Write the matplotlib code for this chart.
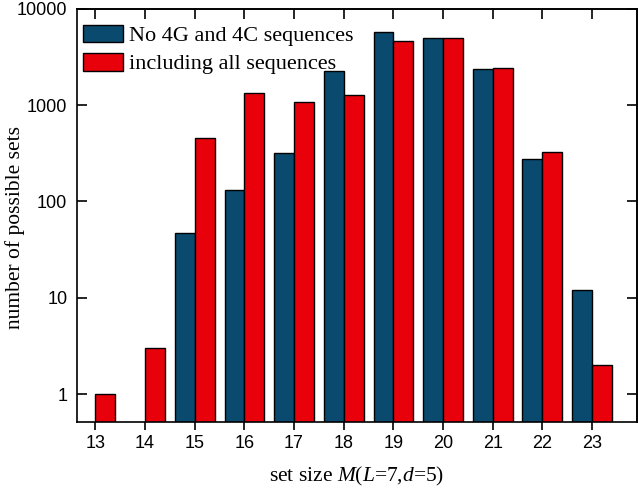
import numpy as np
import matplotlib
matplotlib.use("Agg")
import matplotlib.pyplot as plt
from matplotlib.ticker import FixedLocator, NullLocator

# set size M(L=7, d=5)
set_size = [13, 14, 15, 16, 17, 18, 19, 20, 21, 22, 23]
# no 4G and 4C sequences (0 = no bar)
no_4g4c = [0, 0, 47, 132, 321, 2280, 5700, 5010, 2370, 275, 12]
# including all sequences
all_seq = [1, 3, 459, 1350, 1085, 1282, 4670, 4930, 2445, 323, 2]

blue = "#0a4a6e"
red = "#e8000a"
serif = ["Liberation Serif", "DejaVu Serif"]
sans = ["Liberation Sans", "DejaVu Sans"]

plt.rcParams["mathtext.fontset"] = "custom"
plt.rcParams["mathtext.it"] = "Liberation Serif:italic"
plt.rcParams["mathtext.rm"] = "Liberation Serif"

fig = plt.figure(figsize=(6.38, 4.90), dpi=100)
ax = fig.add_axes([0.1207, 0.138, 0.998 - 0.1207, 0.982 - 0.138])

x = np.array(set_size, dtype=float)
b = np.array(no_4g4c, dtype=float)
r = np.array(all_seq, dtype=float)
mask = b > 0
ax.bar(x[mask], b[mask], width=-0.4, align="edge", color=blue,
       edgecolor="black", linewidth=1.0, label="No 4G and 4C sequences")
ax.bar(x, r, width=0.4, align="edge", color=red,
       edgecolor="black", linewidth=1.0, label="including all sequences")

ax.set_yscale("log")
ax.set_ylim(0.508, 10000)
ax.set_xlim(12.63, 23.9)

ax.set_xticks(set_size)
ax.set_xticklabels([str(s) for s in set_size], fontfamily=sans, fontsize=13)
ax.yaxis.set_major_locator(FixedLocator([1, 10, 100, 1000, 10000]))
ax.yaxis.set_minor_locator(NullLocator())
ax.set_yticklabels(["1", "10", "100", "1000", "10000"], fontfamily=sans, fontsize=13)

ax.tick_params(axis="x", direction="out", length=6, width=1.2, pad=3)
ax.tick_params(axis="y", direction="in", length=7, width=1.2, pad=7)

top = ax.secondary_xaxis("top")
top.set_xticks(set_size)
top.tick_params(direction="in", length=7, width=1.2, labeltop=False)
right = ax.secondary_yaxis("right")
right.yaxis.set_major_locator(FixedLocator([1, 10, 100, 1000, 10000]))
right.yaxis.set_minor_locator(NullLocator())
right.tick_params(direction="in", length=7, width=1.2, labelright=False)

for sp in list(ax.spines.values()) + [top.spines["top"], right.spines["right"]]:
    sp.set_linewidth(1.2)

ax.set_xlabel("set size $M$($L$=7,$d$=5)", fontfamily=serif, fontsize=15.5)
ax.xaxis.set_label_coords(0.5, -0.103)
ax.set_ylabel("number of possible sets", fontfamily=serif, fontsize=15.5)
ax.yaxis.set_label_coords(-0.093, 0.472)

ax.legend(loc="upper left", bbox_to_anchor=(0.010, 0.962), frameon=False,
          prop={"family": serif, "size": 16},
          handlelength=1.8, handleheight=0.86, handletextpad=0.27,
          labelspacing=0.3, borderaxespad=0.0, borderpad=0.0)

fig.savefig("out.png", dpi=100)
